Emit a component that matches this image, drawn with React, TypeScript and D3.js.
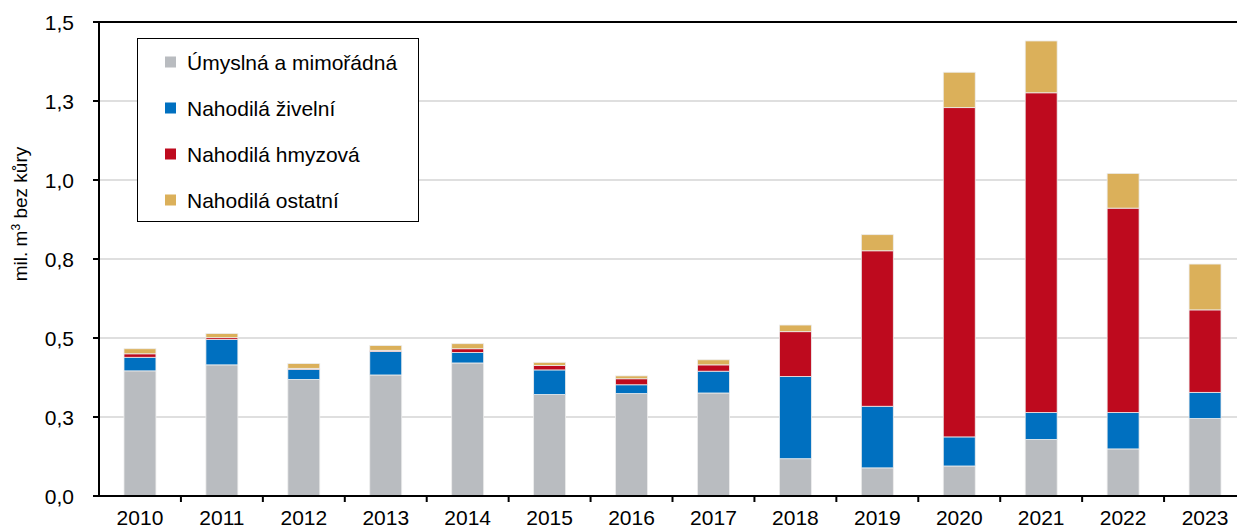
import React from "react";
import * as d3 from "d3";

const years = ["2010","2011","2012","2013","2014","2015","2016","2017","2018","2019","2020","2021","2022","2023"];
const umyslna = [0.396,0.415,0.369,0.383,0.421,0.321,0.324,0.326,0.118,0.089,0.095,0.179,0.149,0.245];
const zivelni = [0.043,0.080,0.032,0.074,0.033,0.078,0.028,0.069,0.260,0.195,0.092,0.085,0.115,0.083];
const hmyzova = [0.011,0.006,0.003,0.004,0.012,0.014,0.019,0.020,0.142,0.492,1.042,1.012,0.647,0.261];
const ostatni = [0.016,0.013,0.015,0.015,0.016,0.010,0.009,0.016,0.021,0.051,0.112,0.164,0.110,0.145];
const seriesNames = ["Úmyslná a mimořádná","Nahodilá živelní","Nahodilá hmyzová","Nahodilá ostatní"];
const seriesColors = ["#B9BCC0","#0070C0","#BE0A1E","#DBB05A"];
const yTicks = [0,0.25,0.5,0.75,1.0,1.25,1.5];

const W = 1237, H = 529;
const X0 = 99, X1 = 1246, Y0 = 496, Y1 = 22;
const FONT = "'Liberation Sans', Arial, sans-serif";

export default function App() {
  const x = d3.scaleBand().domain(years).range([X0, X1]).paddingInner(0.61).paddingOuter(0.305);
  const xb = d3.scaleBand().domain(years).range([X0, X1]);
  const y = d3.scaleLinear().domain([0, 1.5]).range([Y0, Y1]);
  const rows = years.map((yr, i) => ({ yr, s0: umyslna[i], s1: zivelni[i], s2: hmyzova[i], s3: ostatni[i] }));
  const stack = d3.stack<any>().keys(["s0","s1","s2","s3"])(rows);
  const fmt = (v: number) => d3.format(".1f")(v).replace(".", ",");

  return (
    <svg width={W} height={H} style={{ position: "absolute", left: 0, top: 0, background: "#fff" }} fontFamily={FONT}>
      {yTicks.map((t) => (
        <line key={"g" + t} x1={X0} x2={X1} y1={y(t)} y2={y(t)} stroke="#D4D4D4" strokeWidth={1.5} />
      ))}
      {stack.map((layer, si) => (
        <g key={si} fill={seriesColors[si]}>
          {layer.map((d: any, i: number) => (
            <rect key={i} x={x(years[i])} width={x.bandwidth()} y={y(d[1])} height={y(d[0]) - y(d[1])}
              stroke="#EDEDED" strokeWidth={0.8} />
          ))}
        </g>
      ))}
      <line x1={X0} x2={X1} y1={Y1} y2={Y1} stroke="#000" strokeWidth={2} />
      <line x1={X0} x2={X0} y1={Y1} y2={Y0} stroke="#000" strokeWidth={2} />
      <line x1={X0 - 6} x2={X1} y1={Y0} y2={Y0} stroke="#000" strokeWidth={2} />
      {yTicks.map((t) => (
        <g key={"t" + t}>
          <line x1={X0 - 6} x2={X0} y1={y(t)} y2={y(t)} stroke="#000" strokeWidth={2} />
          <text x={74} y={y(t)} textAnchor="end" dominantBaseline="central" fontSize={21} fill="#000">{fmt(t)}</text>
        </g>
      ))}
      {years.map((yr, i) => (
        <g key={yr}>
          {i > 0 && <line x1={xb(yr)} x2={xb(yr)} y1={Y0} y2={Y0 + 6} stroke="#000" strokeWidth={2} />}
          <text x={(xb(yr) as number) + xb.bandwidth() / 2} y={525} textAnchor="middle" fontSize={21} fill="#000">{yr}</text>
        </g>
      ))}
      <text transform={`translate(27,214) rotate(-90)`} textAnchor="middle" fontSize={19} fill="#000">
        mil. m<tspan fontSize={12} dy={-7}>3</tspan><tspan dy={7}> bez kůry</tspan>
      </text>
      <rect x={137.5} y={38.5} width={281} height={183} fill="#fff" stroke="#000" strokeWidth={1} />
      {seriesNames.map((n, i) => (
        <g key={n}>
          <rect x={165} y={62 + i * 46 - 5.5} width={11} height={11} fill={seriesColors[i]} />
          <text x={187} y={62 + i * 46} dominantBaseline="central" fontSize={21} fill="#000">{n}</text>
        </g>
      ))}
    </svg>
  );
}
